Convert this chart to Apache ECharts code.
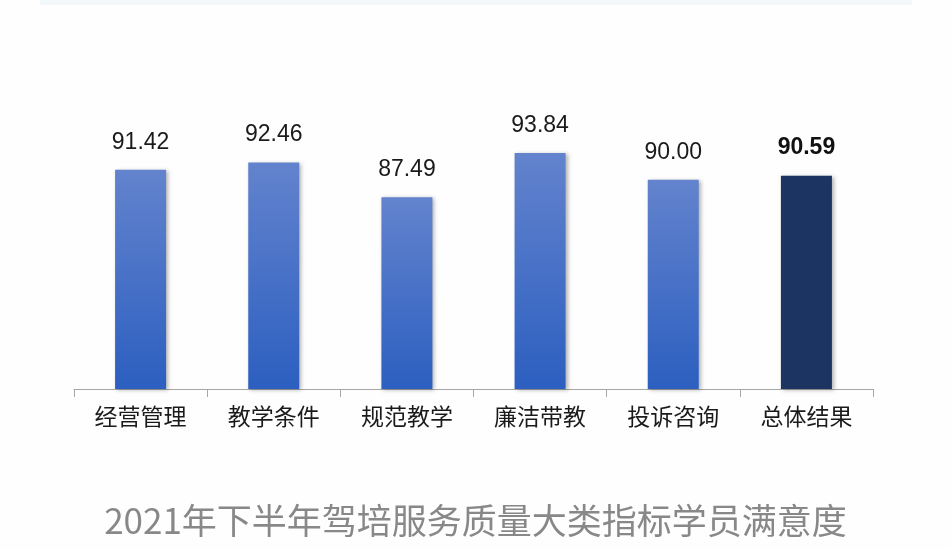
<!DOCTYPE html>
<html>
<head>
<meta charset="utf-8">
<script src="https://cdn.jsdelivr.net/npm/echarts@6/dist/echarts.min.js"></script>
<style>
html,body{margin:0;padding:0;background:#fefefe;}
#c{width:951px;height:549px;}
</style>
</head>
<body>
<div id="c"></div>
<script>
var categories = ['经营管理','教学条件','规范教学','廉洁带教','投诉咨询','总体结果'];
var values = [91.42, 92.46, 87.49, 93.84, 90.00, 90.59];
var titleText = '2021年下半年驾培服务质量大类指标学员满意度';

var chart = echarts.init(document.getElementById('c'));
var blueGrad = new echarts.graphic.LinearGradient(0,0,0,1,[
  {offset:0,color:'#6383cd'},
  {offset:1,color:'#2c5fc0'}
]);
var data = values.map(function(v,i){
  var last = i === values.length-1;
  return {
    value: v,
    itemStyle: last ? {color:'#1c3461'} : {color: blueGrad},
    label: last ? {fontWeight:'bold', color:'#111'} : {}
  };
});
chart.setOption({
  backgroundColor:'#fefefe',
  animation:false,
  graphic:[{
    type:'rect', left:40, top:0,
    shape:{width:872,height:5},
    style:{fill:'#f3f8fb'}
  }],
  title:{
    text:titleText, left:'center', top:498,
    textStyle:{fontFamily:'Noto Sans CJK SC', fontSize:35, fontWeight:'normal', color:'#888888'}
  },
  grid:{left:74,right:78,top:110,bottom:160},
  xAxis:{
    type:'category', data:categories,
    axisLine:{lineStyle:{color:'#a6a6a6',width:1}},
    axisTick:{show:true,length:8,lineStyle:{color:'#a6a6a6'}},
    axisLabel:{fontFamily:'Noto Sans CJK SC', fontSize:23, color:'#1a1a1a', margin:16}
  },
  yAxis:{type:'value',min:60,max:100,show:false,splitLine:{show:false}},
  series:[{
    type:'bar', data:data, barWidth:51,
    itemStyle:{shadowBlur:4,shadowColor:'rgba(0,0,0,0.3)',shadowOffsetX:2,shadowOffsetY:1},
    label:{
      show:true, position:'top', distance:16,
      fontFamily:'Liberation Sans', fontSize:23, color:'#1a1a1a',
      formatter:function(p){return p.value.toFixed(2);}
    }
  }]
});
</script>
</body>
</html>
